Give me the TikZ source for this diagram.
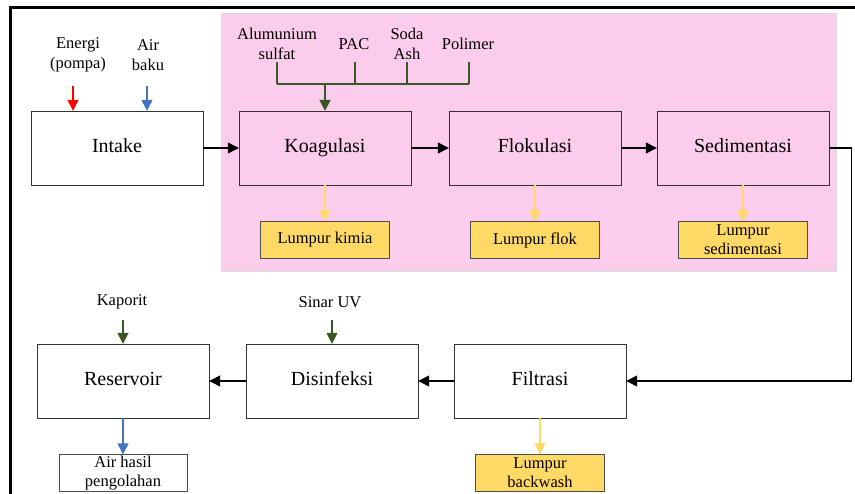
\documentclass[tikz,border=0pt]{standalone}
\usepackage{fontspec}
\setmainfont{Liberation Serif}
\usetikzlibrary{arrows.meta}

\definecolor{pinkbg}{RGB}{252,204,236}
\definecolor{chemgreen}{RGB}{56,87,35}
\definecolor{sludge}{RGB}{255,217,102}
\definecolor{waterblue}{RGB}{68,114,196}

\begin{document}
\begin{tikzpicture}[x=1pt, y=-1pt,
    process/.style={draw=black!80, minimum width=172pt, minimum height=74pt,
        inner sep=0pt, text height=14pt, text depth=4pt, font=\rmfamily\fontsize{20}{24}\selectfont},
    sludgebox/.style={draw=black!70, fill=sludge, minimum width=129pt, minimum height=37pt,
        inner sep=0pt, align=center, font=\rmfamily\fontsize{16.5}{19}\selectfont},
    lbl/.style={inner sep=0pt, align=center, font=\rmfamily\fontsize{16.5}{20.5}\selectfont},
    flow/.style={-{Triangle[length=11pt, width=11pt]}, line width=1.3pt}]

    \useasboundingbox (0,0) rectangle (855,494);

    % frame and coagulation zone
    \draw[line width=3pt] (10,494) -- (10,8) -- (855,8);
    \filldraw[fill=pinkbg, draw=black!15] (221,13) rectangle (836,271);

    % process units
    \node[process] (intake)    at (117,148) {Intake};
    \node[process] (koag)      at (325,148) {Koagulasi};
    \node[process] (flok)      at (535,148) {Flokulasi};
    \node[process] (sedim)     at (743,148) {Sedimentasi};
    \node[process] (reservoir) at (123,381) {Reservoir};
    \node[process] (disinf)    at (332,381) {Disinfeksi};
    \node[process] (filtrasi)  at (540,381) {Filtrasi};

    % outputs
    \node[sludgebox] (lkimia)   at (325,240) {Lumpur kimia};
    \node[sludgebox] (lflok)    at (535,240) {Lumpur flok};
    \node[sludgebox] (lsedim)   at (743,240) {Lumpur\\sedimentasi};
    \node[sludgebox] (backwash) at (540,473) {Lumpur\\backwash};
    \node[sludgebox, fill=white, minimum width=128pt] (airhasil) at (123,473) {Air hasil\\pengolahan};

    % inputs
    \node[lbl] (energi)  at (78,55)  {Energi\\(pompa)};
    \node[lbl] (airbaku) at (148,55) {Air\\baku};
    \node[lbl] (alum)    at (277,44) {Alumunium\\sulfat};
    \node[lbl] (pac)     at (354,44) {PAC};
    \node[lbl] (soda)    at (407,44) {Soda\\Ash};
    \node[lbl] (polimer) at (468,44) {Polimer};
    \node[lbl] (kaporit) at (122,302) {Kaporit};
    \node[lbl] (uv)      at (330,302) {Sinar UV};

    \coordinate (e0) at (73,86);
    \coordinate (a0) at (147,86);
    \coordinate (k0) at (123,320);
    \coordinate (u0) at (332,320);
    \coordinate (mix) at (325,84);

    \draw[flow, red]       (e0) -- (e0 |- intake.north);
    \draw[flow, waterblue] (a0) -- (a0 |- intake.north);
    \draw[flow, chemgreen] (k0) -- (reservoir.north);
    \draw[flow, chemgreen] (u0) -- (disinf.north);

    % chemical dosing manifold
    \foreach \x in {277, 355, 407, 469}
        \draw[chemgreen, line width=1.3pt] (\x,62) -- (\x,84);
    \draw[chemgreen, line width=1.3pt] (277,84) -- (469,84);
    \draw[flow, chemgreen, line width=1.8pt] (mix) -- (koag.north);

    % main line
    \draw[flow] (intake) -- (koag);
    \draw[flow] (koag) -- (flok);
    \draw[flow] (flok) -- (sedim);
    \draw[flow] (sedim.east) -- ++(22,0) |- (filtrasi.east);
    \draw[flow] (filtrasi) -- (disinf);
    \draw[flow] (disinf) -- (reservoir);

    % sludge and product
    \draw[flow, sludge] (koag.south) -- (lkimia.north);
    \draw[flow, sludge] (flok.south) -- (lflok.north);
    \draw[flow, sludge] (sedim.south) -- (lsedim.north);
    \draw[flow, sludge] (filtrasi.south) -- (backwash.north);
    \draw[flow, waterblue] (reservoir.south) -- (airhasil.north);
\end{tikzpicture}
\end{document}
